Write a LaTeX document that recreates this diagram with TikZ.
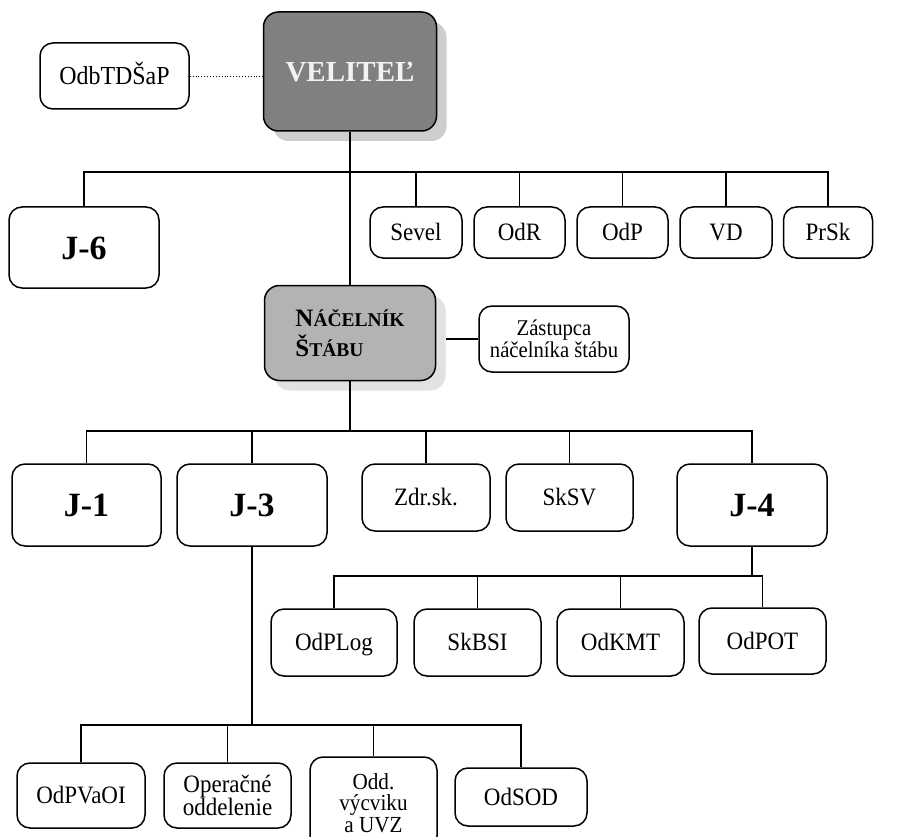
\documentclass[tikz,border=0pt]{standalone}
\usepackage{fontspec}
\setmainfont[FakeStretch=0.92]{Liberation Serif}
\newfontfamily\boldfam[FakeStretch=1.0]{Liberation Serif}
\usetikzlibrary{shadows}
\definecolor{velfill}{HTML}{808080}
\definecolor{velshadow}{HTML}{CDCDCD}
\definecolor{nacfill}{HTML}{B3B3B3}
\definecolor{nacshadow}{HTML}{E2E2E2}
\definecolor{veltext}{HTML}{F2F2F2}
\begin{document}
\begin{tikzpicture}[x=1pt,y=-1pt,
  box/.style={draw=black, line width=1.5pt, rounded corners=13pt, fill=white,
    inner sep=0pt, align=center, font=\fontsize{25}{25}\selectfont},
  one/.style={text height=16.5pt, text depth=0pt},
  jbox/.style={box, text height=23pt, text depth=0pt, font=\boldfam\fontsize{34}{34}\selectfont\bfseries},
  conn/.style={line width=1.6pt},
  trunk/.style={line width=2.4pt}]
\useasboundingbox (0,0) rectangle (899,837);

% top
\node[box, text height=17pt, text depth=0pt, minimum width=149pt, minimum height=66pt, font=\fontsize{26}{26}\selectfont] (odb) at (114.5,76) {OdbTDŠaP};
\node[box, text height=19.5pt, text depth=0pt, fill=velfill, rounded corners=15pt, minimum width=173pt, minimum height=119pt,
  drop shadow={shadow xshift=10pt, shadow yshift=-10pt, fill=velshadow, opacity=1},
  font=\boldfam\fontsize{29}{30}\selectfont\bfseries, text=veltext] (vel) at (350,71.5) {VELITEĽ};

% row 2
\node[jbox, minimum width=150pt, minimum height=81pt] (j6) at (84,247.5) {J-6};
\node[box, one, minimum width=92pt, minimum height=51pt] (sevel) at (416,232.5) {Sevel};
\node[box, one, minimum width=91pt, minimum height=51pt] (odr) at (519.5,232.5) {OdR};
\node[box, one, minimum width=91pt, minimum height=51pt] (odp) at (622.5,232.5) {OdP};
\node[box, one, minimum width=92pt, minimum height=51pt] (vd) at (726,232.5) {VD};
\node[box, one, minimum width=89pt, minimum height=51pt] (prsk) at (828,232.5) {PrSk};

% chief of staff
\node[box, fill=nacfill, rounded corners=15pt, minimum width=171pt, minimum height=95pt,
  drop shadow={shadow xshift=10pt, shadow yshift=-10pt, fill=nacshadow, opacity=1},
  align=left, font=\boldfam\fontsize{19.5}{30}\selectfont\bfseries] (nac) at (350,333)
  {{\fontsize{25}{30}\selectfont N}ÁČELNÍK\\
   {\fontsize{25}{30}\selectfont Š}TÁBU};
\node[box, minimum width=150pt, minimum height=66pt, font=\fontsize{22.5}{22.5}\selectfont] (zas) at (554,339)
  {Zástupca\\náčelníka štábu};

% row J
\node[jbox, minimum width=149pt, minimum height=82pt] (j1) at (86.5,505) {J-1};
\node[jbox, minimum width=150pt, minimum height=82pt] (j3) at (252,505) {J-3};
\node[box, one, minimum width=128pt, minimum height=67pt] (zdr) at (426,497.5) {Zdr.sk.};
\node[box, one, minimum width=127pt, minimum height=67pt] (sksv) at (569.5,497.5) {SkSV};
\node[jbox, minimum width=150pt, minimum height=82pt] (j4) at (752,505) {J-4};

% J-4 children
\node[box, one, minimum width=126pt, minimum height=67pt] (odplog) at (334,642.5) {OdPLog};
\node[box, one, minimum width=127pt, minimum height=67pt] (skbsi) at (477.5,642.5) {SkBSI};
\node[box, one, minimum width=127pt, minimum height=67pt] (odkmt) at (620.5,642.5) {OdKMT};
\node[box, one, minimum width=127pt, minimum height=66pt] (odpot) at (762.5,641) {OdPOT};

% J-3 children
\node[box, one, minimum width=128pt, minimum height=65pt] (odpvaoi) at (81,795.5) {OdPVaOI};
\node[box, minimum width=127pt, minimum height=65pt, font=\fontsize{25}{23}\selectfont] (oper) at (227.5,795.5) {Operačné\\oddelenie};
\node[box, minimum width=127pt, minimum height=92pt, font=\fontsize{23}{21.5}\selectfont] (oddv) at (373.5,803)
  {Odd.\\výcviku\\a UVZ};
\node[box, one, minimum width=132pt, minimum height=58pt] (odsod) at (521,797) {OdSOD};

% bus coordinates
\coordinate (b1) at (350,172);
\coordinate (b2) at (350,431);
\coordinate (b3) at (752,576);
\coordinate (b4) at (252,725);

% connectors
\draw[line width=0.9pt, dotted] (odb.east) -- (odb.east -| vel.west);
\draw[trunk] (vel.south) -- (nac.north);
\draw[conn] (j6.north) |- (b1) -| (prsk.north);
\foreach \n in {sevel,odr,odp,vd} \draw[conn] (\n.north) -- (\n.north |- b1);

\draw[conn, shorten <=10pt] (nac.east |- zas.west) -- (zas.west);

\draw[trunk] (nac.south) -- (b2);
\draw[conn] (j1.north) |- (b2) -| (j4.north);
\foreach \n in {j3,zdr,sksv} \draw[conn] (\n.north) -- (\n.north |- b2);

\draw[conn] (j4.south) -- (b3);
\draw[conn] (odplog.north) |- (b3) -| (odpot.north);
\foreach \n in {skbsi,odkmt} \draw[conn] (\n.north) -- (\n.north |- b3);

\draw[conn] (j3.south) -- (b4);
\draw[conn] (odpvaoi.north) |- (b4) -| (odsod.north);
\foreach \n in {oper,oddv} \draw[conn] (\n.north) -- (\n.north |- b4);
\end{tikzpicture}
\end{document}
